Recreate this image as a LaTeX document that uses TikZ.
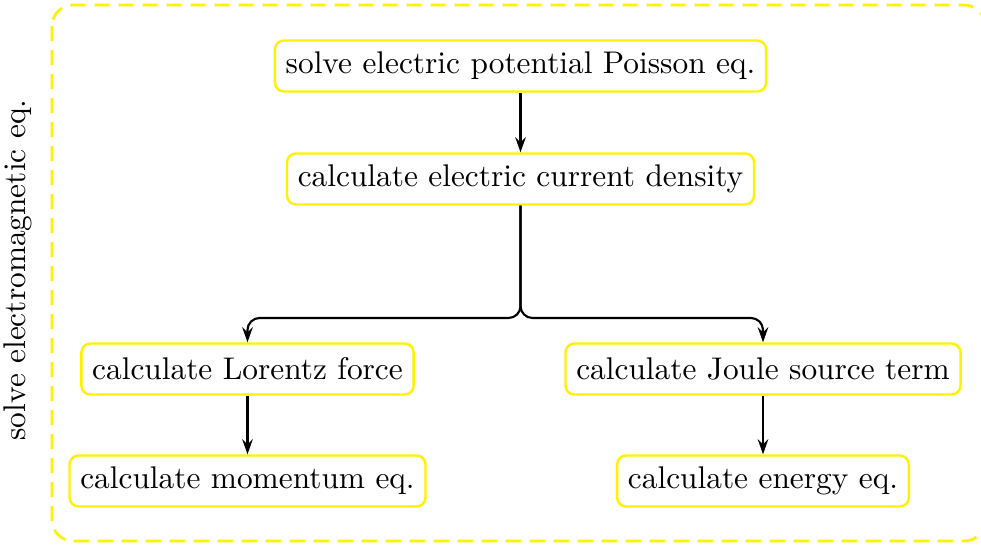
\documentclass[tikz,border=0pt]{standalone}
\usetikzlibrary{arrows.meta}
\begin{document}
\begin{tikzpicture}[x=0.3333pt,y=-0.3333pt,
  font=\fontsize{10.45}{12.5}\selectfont,
  stepbox/.style={draw=yellow,line width=0.8pt,rounded corners=3pt,inner sep=3.6pt,minimum height=17pt,fill=white},
  arr/.style={-{Stealth[length=5pt,width=3.5pt]},line width=0.7pt}]
\useasboundingbox (0,0) rectangle (981,545);
\draw[yellow,dashed,line width=0.9pt,dash pattern=on 5pt off 3pt,rounded corners=7pt] (52,5) rectangle (985,541);
\node[rotate=90] (lbl) at (18,270) {solve electromagnetic eq.};
\node[stepbox] (poisson) at (520.5,66) {solve electric potential Poisson eq.};
\node[stepbox] (current) at (520.5,179) {calculate electric current density};
\node[stepbox] (lorentz) at (247.5,369) {calculate Lorentz force};
\node[stepbox] (joule) at (763,369) {calculate Joule source term};
\node[stepbox] (momentum) at (247.5,481) {calculate momentum eq.};
\node[stepbox] (energy) at (763,481) {calculate energy eq.};
\coordinate (j) at (520.5,318);
\draw[arr] (poisson) -- (current);
\draw[arr,rounded corners=4pt] (current.south) -- (j) -| (lorentz.north);
\draw[arr,rounded corners=4pt] (current.south) -- (j) -| (joule.north);
\draw[arr] (lorentz) -- (momentum);
\draw[arr] (joule) -- (energy);
\end{tikzpicture}
\end{document}
